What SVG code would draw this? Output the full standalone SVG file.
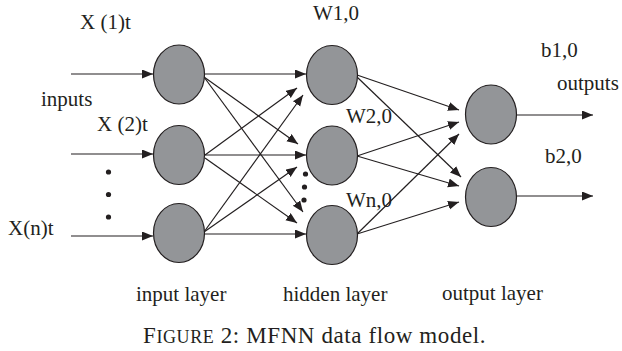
<svg xmlns="http://www.w3.org/2000/svg" width="622" height="351" viewBox="0 0 622 351">
<style>
.n{fill:#939598;stroke:#231f20;stroke-width:1.2}
.c line{stroke:#231f20;stroke-width:1.2;marker-end:url(#ah)}
.t{font-family:"Liberation Serif","Times New Roman",serif;font-size:21px;fill:#231f20}
.cap{font-size:23px;letter-spacing:0.6px}
.d{fill:#231f20}
</style>
<defs>
<marker id="ah" markerUnits="userSpaceOnUse" markerWidth="12" markerHeight="10" refX="11" refY="4.5" orient="auto">
<path d="M0,0 L11,4.5 L0,9 z" fill="#231f20"/>
</marker>
</defs>
<rect width="622" height="351" fill="#fff"/>
<g class="c" id="connectors">
<line x1="71" y1="74" x2="153" y2="74"/>
<line x1="71" y1="154" x2="153" y2="154"/>
<line x1="71" y1="236" x2="153" y2="236"/>
<line x1="204" y1="74" x2="306" y2="74"/>
<line x1="204" y1="77" x2="298" y2="144"/>
<line x1="204" y1="77" x2="303" y2="212"/>
<line x1="205" y1="155" x2="297" y2="88"/>
<line x1="205" y1="155" x2="306" y2="155"/>
<line x1="205" y1="158" x2="297" y2="223"/>
<line x1="204" y1="232" x2="303" y2="95"/>
<line x1="204" y1="232" x2="297" y2="167"/>
<line x1="204" y1="234" x2="306" y2="234"/>
<line x1="357" y1="75" x2="459" y2="110"/>
<line x1="357" y1="77" x2="461" y2="177"/>
<line x1="357" y1="156" x2="459" y2="122"/>
<line x1="357" y1="156" x2="459" y2="186"/>
<line x1="357" y1="234" x2="459" y2="134"/>
<line x1="357" y1="234" x2="459" y2="202"/>
<line x1="516" y1="115" x2="593" y2="115"/>
<line x1="516" y1="196" x2="593" y2="196"/>
</g>
<g id="in1"><ellipse class="n" cx="179" cy="74.5" rx="25.5" ry="29.5"/></g>
<g id="in2"><ellipse class="n" cx="179" cy="155" rx="25.5" ry="29.5"/></g>
<g id="in3"><ellipse class="n" cx="179" cy="233" rx="25.5" ry="29.5"/></g>
<g id="h1"><ellipse class="n" cx="332" cy="75" rx="25.5" ry="29.5"/></g>
<g id="h2"><ellipse class="n" cx="332" cy="155.5" rx="25.5" ry="29.5"/></g>
<g id="h3"><ellipse class="n" cx="332" cy="235" rx="25.5" ry="29.5"/></g>
<g id="o1"><ellipse class="n" cx="491" cy="114.5" rx="25.5" ry="29.5"/></g>
<g id="o2"><ellipse class="n" cx="491" cy="197" rx="25.5" ry="29.5"/></g>
<g id="dots">
<circle class="d" cx="108.5" cy="172" r="2.6"/>
<circle class="d" cx="108.5" cy="194.5" r="2.6"/>
<circle class="d" cx="108.5" cy="217" r="2.6"/>
<circle class="d" cx="305.5" cy="174" r="2.6"/>
<circle class="d" cx="304.5" cy="187" r="2.6"/>
<circle class="d" cx="304" cy="200" r="2.6"/>
</g>
<g id="labels" class="t">
<text x="80" y="29">X (1)t</text>
<text x="41" y="106">inputs</text>
<text x="97" y="131">X (2)t</text>
<text x="8" y="235">X(n)t</text>
<text x="313" y="20">W1,0</text>
<text x="346" y="123">W2,0</text>
<text x="346" y="207">Wn,0</text>
<text x="541" y="57">b1,0</text>
<text x="557" y="90">outputs</text>
<text x="545" y="163">b2,0</text>
<text x="136" y="301">input layer</text>
<text x="283" y="301">hidden layer</text>
<text x="442" y="300">output layer</text>
<text class="cap" x="143" y="343">F<tspan font-size="18px">IGURE</tspan> 2: MFNN data flow model.</text>
</g>
</svg>
